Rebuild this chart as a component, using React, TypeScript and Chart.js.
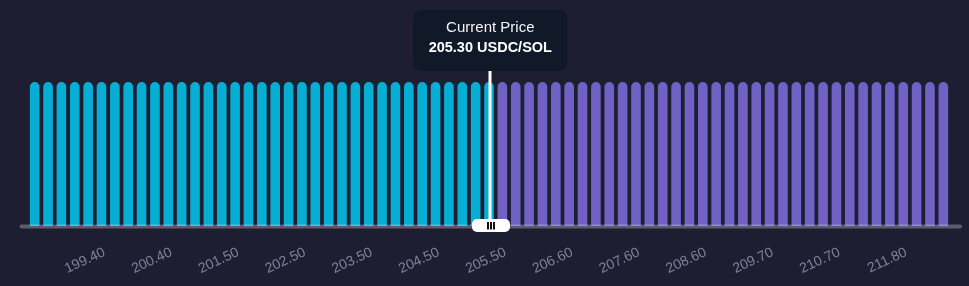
import React, { useEffect, useRef } from "react";
import { Chart, registerables } from "chart.js";

Chart.register(...registerables);

// Price bins (USDC per SOL), one per bar
const priceLabels = [
  "198.50", "198.70", "198.90", "199.00", "199.20", "199.40", "199.60", "199.80", "200.00", "200.20",
  "200.40", "200.60", "200.90", "201.10", "201.30", "201.50", "201.70", "201.90", "202.10", "202.30",
  "202.50", "202.70", "202.90", "203.10", "203.30", "203.50", "203.70", "203.90", "204.10", "204.30",
  "204.50", "204.70", "204.90", "205.10", "205.30", "205.50", "205.70", "205.90", "206.10", "206.30",
  "206.60", "206.80", "207.00", "207.20", "207.40", "207.60", "207.80", "208.00", "208.20", "208.40",
  "208.60", "208.80", "209.00", "209.30", "209.50", "209.70", "209.90", "210.10", "210.30", "210.50",
  "210.70", "210.90", "211.10", "211.40", "211.60", "211.80", "212.00", "212.20", "212.40",
];

// Liquidity per bin (uniform distribution)
const liquidity = [
  1, 1, 1, 1, 1, 1, 1, 1, 1, 1,
  1, 1, 1, 1, 1, 1, 1, 1, 1, 1,
  1, 1, 1, 1, 1, 1, 1, 1, 1, 1,
  1, 1, 1, 1, 1, 1, 1, 1, 1, 1,
  1, 1, 1, 1, 1, 1, 1, 1, 1, 1,
  1, 1, 1, 1, 1, 1, 1, 1, 1, 1,
  1, 1, 1, 1, 1, 1, 1, 1, 1,
];

const currentPriceIndex = 34;
const tooltipTitle = "Current Price";
const tooltipValue = "205.30 USDC/SOL";
const tickEvery = 5;

const BG = "#1e1e33";
const CYAN = "#06aed4";
const PURPLE = "#7161c4";
const FONT = '"Liberation Sans", Arial, Helvetica, sans-serif';

export default function App() {
  const ref = useRef<HTMLCanvasElement | null>(null);

  useEffect(() => {
    if (!ref.current) return;
    const overlay = {
      id: "overlay",
      afterDatasetsDraw(chart: any) {
        const ctx = chart.ctx as CanvasRenderingContext2D;
        const xs = chart.scales.x;
        const area = chart.chartArea;
        const cx = xs.getPixelForValue(currentPriceIndex);
        ctx.save();

        // baseline axis
        ctx.strokeStyle = "rgba(255,255,255,0.28)";
        ctx.lineWidth = 4;
        ctx.lineCap = "round";
        ctx.beginPath();
        ctx.moveTo(21.5, area.bottom + 0.6);
        ctx.lineTo(960, area.bottom + 0.6);
        ctx.stroke();

        // tooltip box
        const tw = 154;
        const th = 61;
        const tx = cx + 1.3 - tw / 2;
        const ty = 10;
        ctx.fillStyle = "#111827";
        ctx.beginPath();
        (ctx as any).roundRect(tx, ty, tw, th, 8);
        ctx.fill();

        ctx.fillStyle = "#f3f4f6";
        ctx.textAlign = "center";
        ctx.textBaseline = "alphabetic";
        ctx.font = `15px ${FONT}`;
        ctx.fillText(tooltipTitle, tx + tw / 2, 31.5);
        ctx.fillStyle = "#ffffff";
        ctx.font = `bold 14.5px ${FONT}`;
        ctx.fillText(tooltipValue, tx + tw / 2, 52);

        // vertical current price line
        ctx.fillStyle = "#ffffff";
        ctx.fillRect(cx - 0.5, ty + th, 3, area.bottom - 7 - (ty + th));

        // handle
        const hw = 38;
        const hh = 13;
        const hx = cx + 2 - hw / 2;
        const hy = area.bottom - 7;
        ctx.beginPath();
        (ctx as any).roundRect(hx, hy, hw, hh, 5);
        ctx.fill();
        ctx.fillStyle = "#111111";
        const hc = cx + 2;
        for (const dx of [-3, 0, 3]) {
          ctx.fillRect(hc + dx - 1, hy + 3, 2, 7.5);
        }
        ctx.restore();
      },
    };

    const chart = new Chart(ref.current, {
      type: "bar",
      data: {
        labels: priceLabels,
        datasets: [
          {
            data: liquidity,
            backgroundColor: (c: any) => (c.dataIndex <= currentPriceIndex ? CYAN : PURPLE),
            borderRadius: { topLeft: 5, topRight: 5, bottomLeft: 0, bottomRight: 0 },
            borderSkipped: "start",
            barPercentage: 0.72,
            categoryPercentage: 1,
          },
        ],
      },
      options: {
        responsive: false,
        animation: false,
        events: [],
        layout: { padding: { top: 82, left: 28, right: 19, bottom: 0 } },
        plugins: { legend: { display: false }, tooltip: { enabled: false } },
        scales: {
          y: { display: false, min: 0, max: 1 },
          x: {
            grid: { display: false, drawTicks: false },
            border: { display: false },
            ticks: {
              autoSkip: false,
              minRotation: 25,
              maxRotation: 25,
              padding: 18,
              labelOffset: 3,
              color: "#80809a",
              font: { family: FONT, size: 14 },
              callback: (_v: any, i: number) =>
                i > 0 && i % tickEvery === 0 ? priceLabels[i] : "",
            },
            afterFit: (s: any) => {
              s.height = 60;
            },
          },
        },
      },
      plugins: [overlay],
    } as any);
    return () => chart.destroy();
  }, []);

  return (
    <div
      style={{
        position: "fixed",
        left: 0,
        top: 0,
        width: 969,
        height: 286,
        background: BG,
      }}
    >
      <canvas ref={ref} width={969} height={286} style={{ display: "block" }} />
    </div>
  );
}
